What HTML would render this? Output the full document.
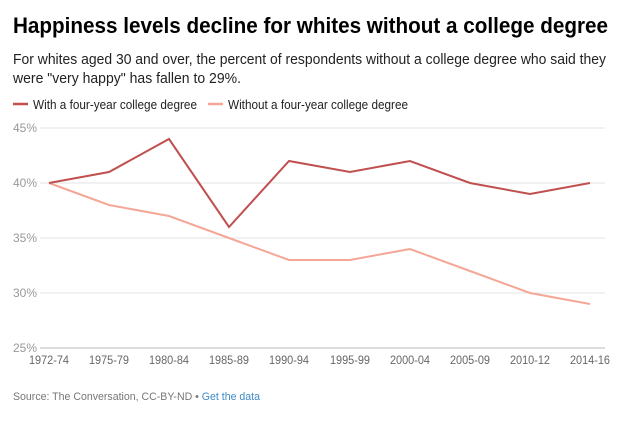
<!DOCTYPE html>
<html><head><meta charset="utf-8"><style>
body{margin:0;width:636px;height:425px;background:#fff;font-family:"Liberation Sans",sans-serif;overflow:hidden}
</style></head><body>
<svg width="636" height="425" xmlns="http://www.w3.org/2000/svg" font-family="Liberation Sans, sans-serif">
<text x="13" y="33" font-size="22" font-weight="bold" fill="#000" textLength="595" lengthAdjust="spacingAndGlyphs">Happiness levels decline for whites without a college degree</text>
<text x="13" y="64" font-size="15" fill="#222" textLength="593" lengthAdjust="spacingAndGlyphs">For whites aged 30 and over, the percent of respondents without a college degree who said they</text>
<text x="13" y="83" font-size="15" fill="#222" textLength="228" lengthAdjust="spacingAndGlyphs">were "very happy" has fallen to 29%.</text>
<line x1="13" y1="104" x2="28" y2="104" stroke="#c0504f" stroke-width="2.5"/>
<text x="33" y="109" font-size="13" fill="#222" textLength="164" lengthAdjust="spacingAndGlyphs">With a four-year college degree</text>
<line x1="208" y1="104" x2="223" y2="104" stroke="#f5a797" stroke-width="2.5"/>
<text x="228" y="109" font-size="13" fill="#222" textLength="180" lengthAdjust="spacingAndGlyphs">Without a four-year college degree</text>
<g stroke="#e3e3e3" stroke-width="1">
<line x1="40" y1="128" x2="605" y2="128"/><line x1="40" y1="183" x2="605" y2="183"/>
<line x1="40" y1="238" x2="605" y2="238"/><line x1="40" y1="293" x2="605" y2="293"/>
</g>
<line x1="40" y1="348" x2="605" y2="348" stroke="#bbb"/>
<g font-size="12" fill="#999">
<text x="13" y="132">45%</text><text x="13" y="187">40%</text><text x="13" y="242">35%</text><text x="13" y="297">30%</text><text x="13" y="352">25%</text>
</g>
<g font-size="11.5" fill="#666" text-anchor="middle">
<text x="49" y="364" textLength="40" lengthAdjust="spacingAndGlyphs">1972-74</text><text x="109" y="364" textLength="40" lengthAdjust="spacingAndGlyphs">1975-79</text><text x="169" y="364" textLength="40" lengthAdjust="spacingAndGlyphs">1980-84</text><text x="229" y="364" textLength="40" lengthAdjust="spacingAndGlyphs">1985-89</text><text x="289" y="364" textLength="40" lengthAdjust="spacingAndGlyphs">1990-94</text><text x="350" y="364" textLength="40" lengthAdjust="spacingAndGlyphs">1995-99</text><text x="410" y="364" textLength="40" lengthAdjust="spacingAndGlyphs">2000-04</text><text x="470" y="364" textLength="40" lengthAdjust="spacingAndGlyphs">2005-09</text><text x="530" y="364" textLength="40" lengthAdjust="spacingAndGlyphs">2010-12</text><text x="590" y="364" textLength="40" lengthAdjust="spacingAndGlyphs">2014-16</text>
</g>
<polyline fill="none" stroke="#f5a797" stroke-width="2" points="49,183 109,205 169,216 229,238 289,260 350,260 410,249 470,271 530,293 590,304"/>
<polyline fill="none" stroke="#c0504f" stroke-width="2" points="49,183 109,172 169,139 229,227 289,161 350,172 410,161 470,183 530,194 590,183"/>
<text x="13" y="400" font-size="11" fill="#777" textLength="247" lengthAdjust="spacingAndGlyphs">Source: The Conversation, CC-BY-ND • <tspan fill="#3d8ac8">Get the data</tspan></text>
</svg>
</body></html>
